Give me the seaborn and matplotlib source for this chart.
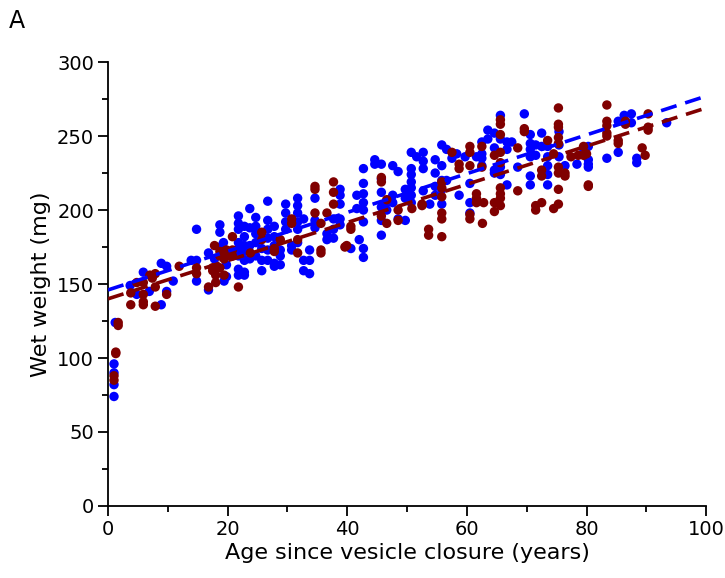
import matplotlib
matplotlib.use('Agg')
import matplotlib.pyplot as plt
import numpy as np
import pandas as pd
import seaborn as sns

# blue series (age in years, wet weight in mg)
blue_age = [1.0, 1.0, 1.0, 1.0, 1.2,
            3.7, 4.8, 5.9, 6.9, 8.9, 8.9, 9.8, 9.8, 10.9, 13.9, 14.8, 14.8, 14.8, 16.8, 16.8, 17.8,
            18.7, 18.7, 19.3, 18.7, 19.4,
            19.8, 19.8, 21.8, 21.8, 21.8, 21.8, 21.8, 21.8, 21.8, 21.8,
            22.8, 22.8, 22.8, 22.8, 22.8, 22.8, 22.8,
            23.7, 23.7, 23.7, 23.7,
            24.7, 24.7, 24.7, 24.7, 24.7,
            25.7, 25.7, 25.7,
            26.7, 26.7, 26.7, 26.7, 26.7, 26.7,
            27.8, 27.8, 27.8, 27.8, 27.8,
            28.8, 28.8, 28.8,
            29.7, 29.7, 29.7, 29.7,
            30.7, 30.7,
            31.7, 31.7, 31.7, 31.7, 31.7, 31.7,
            32.7, 32.7, 32.7,
            33.7, 33.7, 33.7,
            34.6, 34.6, 34.6,
            36.6, 36.6,
            37.7, 37.7, 37.7,
            38.8, 38.8, 38.8, 38.8, 38.8,
            40.6, 41.6, 41.6, 42.0, 42.7, 42.7,
            42.7, 42.7, 42.7, 42.7, 42.7, 42.7,
            44.6, 44.6,
            45.7, 45.7, 45.7, 45.7, 45.7, 45.7,
            46.6, 46.6,
            47.6, 48.5, 47.6, 47.6, 48.5,
            49.7, 49.7, 49.7,
            50.7, 50.7, 50.7, 50.7, 50.7, 50.7, 50.7,
            51.6, 52.7, 52.7, 52.7, 52.7,
            53.8,
            54.7, 54.7, 54.7, 54.7,
            55.8, 55.8, 55.8, 55.8, 55.8,
            56.6, 56.6, 57.5, 58.3, 58.7,
            59.7, 60.5, 60.5, 60.5, 61.6,
            62.5, 62.5, 62.5, 62.5,
            63.5, 64.6, 63.5, 64.6, 64.6, 64.6,
            65.6, 65.6, 65.6, 65.6,
            66.7, 66.7, 66.7,
            67.5, 68.5, 69.6,
            70.6, 70.6, 70.6, 70.6, 70.6, 70.6,
            71.5, 71.5,
            72.5, 72.5, 73.5, 73.5, 73.5, 73.5, 73.5,
            75.4, 75.4, 75.4,
            76.4, 78.4, 79.5,
            80.3, 80.3, 80.3, 80.3, 83.4, 85.3, 85.3, 86.3, 87.5, 87.5, 88.4, 88.4, 93.4]
blue_wt = [74, 82, 90, 96, 124,
           149, 143, 158, 145, 164, 136, 162, 145, 152, 166, 166, 187, 152, 171, 146, 167,
           190, 185, 178, 175, 152,
           155, 163, 196, 191, 187, 178, 174, 169, 160, 156,
           189, 182, 176, 172, 166, 158, 156,
           201, 188, 176, 167,
           195, 189, 184, 178, 169,
           174, 166, 159,
           206, 193, 187, 181, 173, 166,
           189, 182, 176, 164, 162,
           173, 169, 163,
           204, 198, 192, 187,
           176, 173,
           208, 203, 198, 192, 187, 178,
           194, 166, 159,
           173, 166, 157,
           208, 193, 188,
           184, 180,
           194, 187, 181,
           214, 210, 204, 194, 190,
           174, 210, 201, 180, 174, 168,
           228, 218, 211, 205, 200, 192,
           234, 231,
           231, 221, 212, 202, 193, 183,
           205, 200,
           230, 226, 210, 205, 194,
           214, 208, 193,
           239, 228, 224, 219, 215, 210, 205,
           236, 239, 233, 228, 213,
           204,
           234, 225, 216, 210,
           230, 244, 220, 214, 204,
           241, 220, 235, 238, 210,
           236, 218, 205, 198, 236,
           246, 238, 235, 230,
           254, 252, 248, 242, 227, 225,
           264, 248, 229, 224,
           246, 241, 217,
           246, 229, 265,
           251, 245, 241, 236, 223, 217,
           244, 237,
           252, 243, 243, 236, 230, 224, 217,
           253, 244, 236,
           230, 231, 239,
           243, 234, 231, 229, 235, 260, 239, 264, 265, 259, 235, 232, 259]

# dark red series
red_age = [1.0, 1.0, 1.3, 1.3, 1.7, 1.7,
           3.8, 3.8, 4.8, 5.9, 5.9, 5.9, 5.9, 7.0, 7.4, 7.9, 7.9, 7.9, 9.8, 11.9, 14.8, 14.8,
           16.8, 17.8, 17.5, 17.5, 18.0, 18.0, 18.7, 18.7, 19.3, 19.4, 18.7, 19.4,
           19.8, 19.8, 20.8, 20.8, 20.8, 21.8, 23.8, 25.7, 25.7, 27.8, 27.8, 28.8, 30.7, 30.7,
           31.7, 31.7, 34.6, 34.6, 34.6, 35.6, 35.6, 35.6, 36.6, 37.7, 37.7, 37.7, 39.6,
           39.9, 40.6, 40.6, 45.7, 45.7, 45.7, 46.6, 46.6, 48.5, 48.5, 50.8, 52.5, 52.5, 53.6, 53.6,
           55.8, 55.8, 55.8, 55.8, 55.8, 55.8, 57.5, 58.7, 58.7,
           60.5, 60.5, 60.5, 60.5, 60.5, 61.6, 61.6, 61.6, 62.5, 62.5, 62.6, 62.8, 64.6, 64.6, 64.6,
           65.6, 65.6, 65.6, 65.6, 65.6, 65.6, 65.6, 65.6, 65.6,
           68.5, 68.5, 69.6, 69.6, 71.5, 71.5, 72.5, 72.5, 72.5, 73.5, 74.5, 74.5,
           75.3, 75.3, 75.3, 75.3, 75.3, 75.3, 75.3, 75.3, 75.3,
           76.4, 76.4, 77.4, 78.6, 79.5, 79.5,
           80.0, 80.3, 80.3, 83.4, 83.4, 83.4, 83.4, 83.4, 85.3, 85.3, 86.5, 86.5,
           89.3, 89.8, 90.3, 90.3, 90.3]
red_wt = [85, 88, 104, 103, 124, 122,
          144, 136, 151, 143, 138, 136, 151, 156, 154, 157, 148, 135, 143, 162, 161, 157,
          148, 176, 161, 159, 156, 151, 172, 169, 172, 167, 161, 156,
          173, 169, 182, 169, 173, 148, 171, 185, 180, 172, 174, 180, 194, 191,
          180, 171, 216, 214, 198, 191, 173, 171, 198, 219, 212, 204, 175,
          176, 189, 187, 222, 219, 196, 207, 191, 200, 193, 201, 204, 203, 187, 183,
          219, 215, 209, 198, 194, 182, 239, 231, 228,
          243, 239, 230, 197, 194, 211, 208, 205, 243, 229, 191, 205, 237, 205, 199,
          261, 258, 251, 239, 232, 215, 211, 208, 203,
          242, 213, 255, 253, 203, 200, 227, 223, 205, 247, 238, 201,
          269, 258, 256, 249, 245, 229, 225, 214, 204,
          225, 223, 236, 237, 243, 237,
          238, 216, 217, 271, 260, 257, 252, 250, 247, 245, 260, 258,
          242, 237, 265, 256, 254]

# linear fits: intercept, slope
blue_fit = (146.0, 1.31)
red_fit = (140.0, 1.29)

blue_col = '#0000FF'
red_col = '#800000'

blue_df = pd.DataFrame({'age': blue_age, 'wt': blue_wt})
red_df = pd.DataFrame({'age': red_age, 'wt': red_wt})

sns.set_style('ticks')
plt.rcParams['font.family'] = ['DejaVu Sans']
plt.rcParams['text.color'] = 'black'
plt.rcParams['axes.labelcolor'] = 'black'
plt.rcParams['xtick.color'] = 'black'
plt.rcParams['ytick.color'] = 'black'

fig = plt.figure(figsize=(7.25, 5.78), dpi=100)
ax = fig.add_axes([0.149, 0.1246, 0.825, 0.768])

sns.scatterplot(data=blue_df, x='age', y='wt', color=blue_col, s=46, edgecolor='none', ax=ax, zorder=2)
sns.scatterplot(data=red_df, x='age', y='wt', color=red_col, s=46, edgecolor='none', ax=ax, zorder=2)

xx = np.array([0, 100])
ax.plot(xx, blue_fit[0] + blue_fit[1] * xx, color=blue_col, lw=2.6, ls=(0, (4.5, 2.5)), zorder=3)
ax.plot(xx, red_fit[0] + red_fit[1] * xx, color=red_col, lw=2.6, ls=(0, (4.5, 2.5)), zorder=3)

ax.set_xlim(0, 100)
ax.set_ylim(0, 300)
ax.set_xticks(np.arange(0, 101, 20))
ax.set_xticks(np.arange(10, 100, 20), minor=True)
ax.set_yticks(np.arange(0, 301, 50))
ax.set_yticks(np.arange(25, 300, 50), minor=True)
ax.tick_params(which='major', direction='out', length=7, width=1.3, labelsize=14, pad=3)
ax.tick_params(which='minor', direction='out', length=4, width=1.3)
sns.despine(ax=ax)
for sp in ['left', 'bottom']:
    ax.spines[sp].set_linewidth(1.3)
    ax.spines[sp].set_color('black')

ax.set_xlabel('Age since vesicle closure (years)', fontsize=16, labelpad=3)
ax.set_ylabel('Wet weight (mg)', fontsize=16, labelpad=4)
fig.text(0.012, 0.952, 'A', fontsize=17)

fig.savefig('out.png', dpi=100)
